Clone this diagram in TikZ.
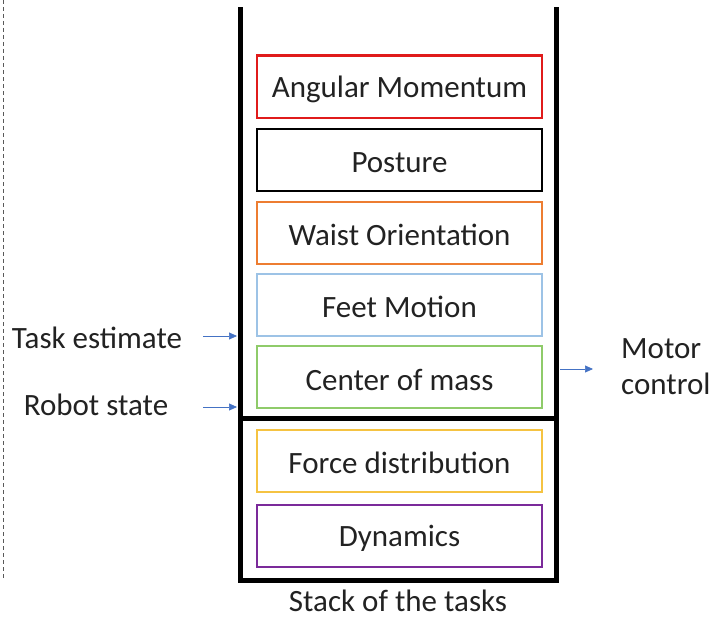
\documentclass[tikz,border=0pt]{standalone}
\usepackage{fontspec}
\setmainfont{Carlito}
\usetikzlibrary{arrows.meta}
\definecolor{cred}{HTML}{E01B1B}
\definecolor{corange}{HTML}{ED7D31}
\definecolor{cblue}{HTML}{9DC3E6}
\definecolor{cgreen}{HTML}{8FCB6A}
\definecolor{cyellow}{HTML}{F5C342}
\definecolor{cpurple}{HTML}{7B2A9A}
\definecolor{carrow}{HTML}{4472C4}
\definecolor{ctext}{HTML}{222222}
\begin{document}
\begin{tikzpicture}[x=1pt,y=-1pt,
  task/.style={draw, line width=2pt, minimum width=285pt, minimum height=62pt, inner sep=0pt, font=\fontsize{31}{36}\selectfont, text=ctext, label={[font=\fontsize{31}{36}\selectfont, text=ctext, inner sep=0pt, yshift=-2.5pt]center:#1}},
  lbl/.style={font=\fontsize{31}{36}\selectfont, text=ctext, inner sep=0pt},
  sig/.style={draw=carrow, line width=0.7pt, -{Triangle[length=8pt,width=7pt]}},
  wall/.style={line width=5pt}]
\useasboundingbox (0,0) rectangle (711,618);
\draw[dashed, gray!70!black, line width=0.8pt, dash pattern=on 4pt off 3pt] (3,0) -- (3,578);
\draw[wall, line cap=rect] (240,10) -- (240,580) -- (556,580) -- (556,10);
\draw[wall] (240,418) -- (556,418);
\node[task=Angular Momentum, draw=cred]    (am) at (399.5,86.5) {};
\node[task=Posture, draw=black]            (po) at (399.5,160) {};
\node[task=Waist Orientation, draw=corange] (wo) at (399.5,232.5) {};
\node[task=Feet Motion, draw=cblue]        (fm) at (399.5,304.5) {};
\node[task=Center of mass, draw=cgreen]    (cm) at (399.5,377) {};
\node[task=Force distribution, draw=cyellow] (fd) at (399.5,460.5) {};
\node[task=Dynamics, draw=cpurple]         (dy) at (399.5,535.5) {};
\node[lbl] (te) at (97,338) {Task estimate};
\node[lbl] (rs) at (96,405) {Robot state};
\node[lbl, align=left, anchor=west] (mc) at (621,367) {Motor\\control};
\node[lbl, anchor=base] (st) at (398,611.5) {Stack of the tasks};
\coordinate (tein) at (237,336);
\coordinate (rsin) at (237,407);
\coordinate (mcout) at (560,369);
\coordinate (mcend) at (593,369);
\draw[sig] (203,336) -- (tein);
\draw[sig] (203,407) -- (rsin);
\draw[sig] (mcout) -- (mcend);
\end{tikzpicture}
\end{document}
